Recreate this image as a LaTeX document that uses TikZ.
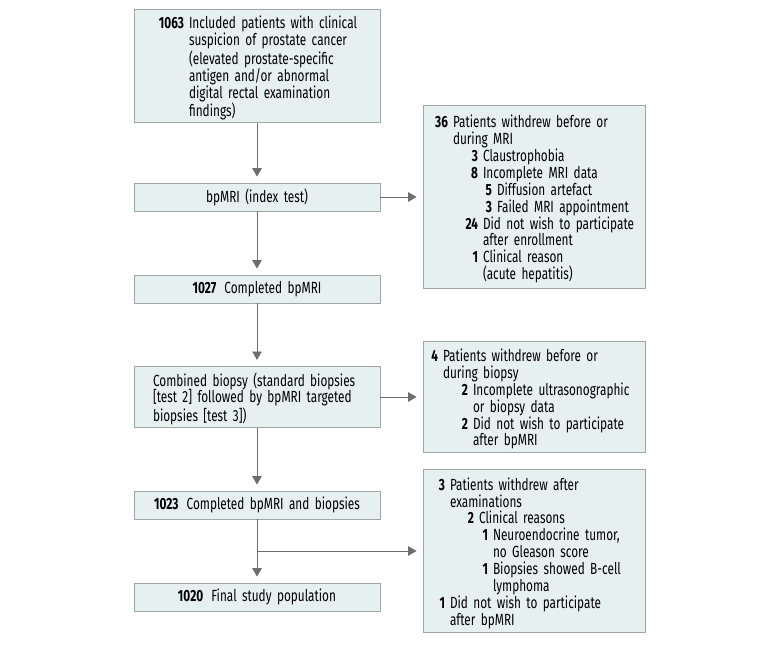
\documentclass[tikz,border=0pt]{standalone}
\usepackage{fontspec}
\setmainfont{Fira Sans}[FakeStretch=0.73]
\usetikzlibrary{arrows}

\definecolor{boxfill}{RGB}{231,240,241}
\definecolor{boxline}{RGB}{160,166,166}
\definecolor{flowline}{RGB}{110,110,110}

% one line of a box: text starts at #1, bold count hangs left of it
\newcommand{\wline}[3]{\par\noindent\hangindent=#1\hangafter=1\hspace*{#1}\llap{\textbf{#2}\hspace{0.125cm}}#3\par}

\tikzset{
  flowbox/.style={draw=boxline, fill=boxfill, line width=0.6pt, inner xsep=0.15cm, inner ysep=2pt, align=left, font=\fontsize{11.5}{12}\selectfont},
  leftbox/.style={flowbox, text width=5.85cm, minimum width=6.15cm, minimum height=#1},
  leftbox/.default=0.7cm,
  rightbox/.style={flowbox, text width=5.25cm, minimum width=5.55cm, minimum height=#1},
  flow/.style={draw=flowline, line width=0.6pt, -triangle 60, shorten >=0.15cm}
}

\begin{document}
\begin{tikzpicture}
\useasboundingbox (0, 0) rectangle (19.5, 16.175);

% Left column
\node[leftbox=2.65cm] (incl) at (6.425, 14.525) {\wline{1.225cm}{1063}{Included patients with clinical\newline suspicion of prostate cancer\newline (elevated prostate-specific\newline antigen and/or abnormal\newline digital rectal examination\newline findings)}};
\node[leftbox, align=center] (mri) at (6.425, 11.25) {bpMRI (index test)};
\node[leftbox, align=center] (mridone) at (6.425, 8.95) {\textbf{1027}\enspace Completed bpMRI};
\node[leftbox=1.5cm] (biopsy) at (6.425, 6.25) {\wline{0.325cm}{}{Combined biopsy (standard biopsies\newline {}[test 2] followed by bpMRI targeted\newline biopsies [test 3])}};
\node[leftbox, align=center] (biopsydone) at (6.425, 3.55) {\textbf{1023}\enspace Completed bpMRI and biopsies};
\node[leftbox, align=center] (final) at (6.425, 1.25) {\textbf{1020}\enspace Final study population};
\coordinate (split) at (6.425, 2.4);

% Withdrawals
\node[rightbox=4.575cm] (drop1) at (13.35, 11.25) {%
\wline{0.6cm}{36}{Patients withdrew before or\newline during MRI}%
\wline{1.35cm}{3}{Claustrophobia}%
\wline{1.35cm}{8}{Incomplete MRI data}%
\wline{1.7cm}{5}{Diffusion artefact}%
\wline{1.7cm}{3}{Failed MRI appointment}%
\wline{1.35cm}{24}{Did not wish to participate\newline after enrollment}%
\wline{1.35cm}{1}{Clinical reason\newline (acute hepatitis)}};
\node[rightbox=2.75cm] (drop2) at (13.35, 6.25) {%
\wline{0.35cm}{4}{Patients withdrew before or\newline during biopsy}%
\wline{1.1cm}{2}{Incomplete ultrasonographic\newline or biopsy data}%
\wline{1.1cm}{2}{Did not wish to participate\newline after bpMRI}};
\node[rightbox=4.075cm] (drop3) at (13.35, 2.4) {%
\wline{0.525cm}{3}{Patients withdrew after\newline examinations}%
\wline{1.25cm}{2}{Clinical reasons}%
\wline{1.6cm}{1}{Neuroendocrine tumor,\newline no Gleason score}%
\wline{1.6cm}{1}{Biopsies showed B-cell\newline lymphoma}%
\wline{0.525cm}{1}{Did not wish to participate\newline after bpMRI}};

% Connectors
\draw[flow] (incl) -- (mri);
\draw[flow] (mri) -- (mridone);
\draw[flow] (mridone) -- (biopsy);
\draw[flow] (biopsy) -- (biopsydone);
\draw[flow] (biopsydone) -- (final);
\draw[flow] (mri) -- (drop1);
\draw[flow] (biopsy) -- (drop2);
\draw[flow] (split) -- (drop3);

\end{tikzpicture}
\end{document}
